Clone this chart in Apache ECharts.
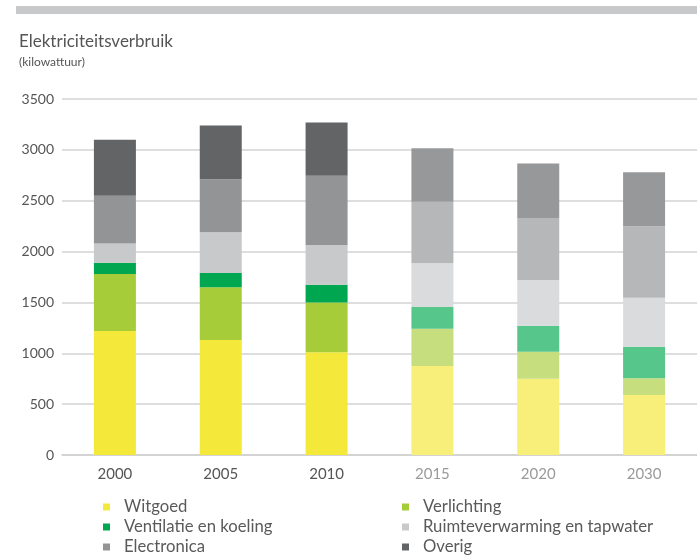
<!DOCTYPE html>
<html>
<head>
<meta charset="utf-8">
<script src="https://cdn.jsdelivr.net/npm/echarts@6/dist/echarts.min.js"></script>
<style>
  html, body { margin: 0; padding: 0; background: #fff; }
  #chart { width: 697px; height: 556px; }
</style>
</head>
<body>
<div id="chart"></div>
<script>
const years = ["2000", "2005", "2010", "2015", "2020", "2030"];
// first 3 years are measured, rest are projections (drawn lighter)
const firstProjection = 3;

const witgoed     = [1220, 1130, 1010, 875, 750, 590];
const verlichting = [560, 520, 490, 365, 265, 165];
const ventilatie  = [110, 140, 175, 215, 255, 310];
const ruimte      = [190, 400, 390, 430, 450, 480];
const electronica = [470, 520, 680, 605, 610, 705];
const overig      = [550, 530, 525, 525, 535, 530];

const yTicks = [0, 500, 1000, 1500, 2000, 2500, 3000, 3500];

const seriesDefs = [
  { name: "Witgoed", data: witgoed, color: "#f4e93b", light: "#f8ee7a" },
  { name: "Verlichting", data: verlichting, color: "#a6cd39", light: "#c6de7e" },
  { name: "Ventilatie en koeling", data: ventilatie, color: "#00a650", light: "#56c68a" },
  { name: "Ruimteverwarming en tapwater", data: ruimte, color: "#c8c9ca", light: "#dadbdc" },
  { name: "Electronica", data: electronica, color: "#939495", light: "#b6b7b8" },
  { name: "Overig", data: overig, color: "#636466", light: "#97989a" }
];

const font = "Lato, 'Open Sans', sans-serif";

function legendRow(top, names) {
  return {
    top: top,
    left: 103,
    padding: 0,
    itemGap: 18,
    itemWidth: 7,
    itemHeight: 7,
    icon: "rect",
    data: names,
    textStyle: {
      fontFamily: font,
      fontSize: 16.7,
      color: "#5a5a5a",
      width: 260,
      lineHeight: 20,
      padding: [0, 0, 0, 9]
    }
  };
}

const myChart = echarts.init(document.getElementById("chart"));

const option = {
  animation: false,
  textStyle: { fontFamily: font },
  graphic: [
    {
      type: "rect",
      left: 16,
      top: 6,
      shape: { width: 681, height: 8 },
      style: { fill: "#c8c9cb" }
    }
  ],
  title: {
    text: "Elektriciteitsverbruik",
    subtext: "(kilowattuur)",
    left: 19,
    top: 33,
    padding: 0,
    itemGap: 6,
    textStyle: { fontFamily: font, fontSize: 17, fontWeight: "normal", color: "#555" },
    subtextStyle: { fontFamily: font, fontSize: 12, color: "#555" }
  },
  tooltip: { trigger: "axis", axisPointer: { type: "shadow" } },
  legend: [
    legendRow(497, ["Witgoed", "Verlichting"]),
    legendRow(517, ["Ventilatie en koeling", "Ruimteverwarming en tapwater"]),
    legendRow(537, ["Electronica", "Overig"])
  ],
  grid: {
    left: 62,
    right: -7,
    top: 99,
    bottom: 101
  },
  xAxis: {
    type: "category",
    data: years,
    axisTick: { show: false },
    axisLine: { lineStyle: { color: "#d0d0d0", width: 1.5 } },
    axisLabel: {
      margin: 12,
      fontSize: 15,
      fontFamily: font,
      color: (val, idx) => (idx >= firstProjection ? "#9a9a9a" : "#555")
    }
  },
  yAxis: {
    type: "value",
    min: yTicks[0],
    max: yTicks[yTicks.length - 1],
    interval: 500,
    axisLine: { show: false },
    axisTick: { show: false },
    axisLabel: {
      margin: 8,
      fontSize: 14,
      fontFamily: font,
      color: "#555",
      formatter: v => String(v)
    },
    splitLine: { lineStyle: { color: "#d3d3d3", width: 1.5 } }
  },
  series: seriesDefs.map(s => ({
    name: s.name,
    type: "bar",
    stack: "total",
    barWidth: 42,
    itemStyle: { color: s.color },
    data: s.data.map((v, i) => ({
      value: v,
      itemStyle: { color: i >= firstProjection ? s.light : s.color }
    }))
  }))
};

myChart.setOption(option);
</script>
</body>
</html>
